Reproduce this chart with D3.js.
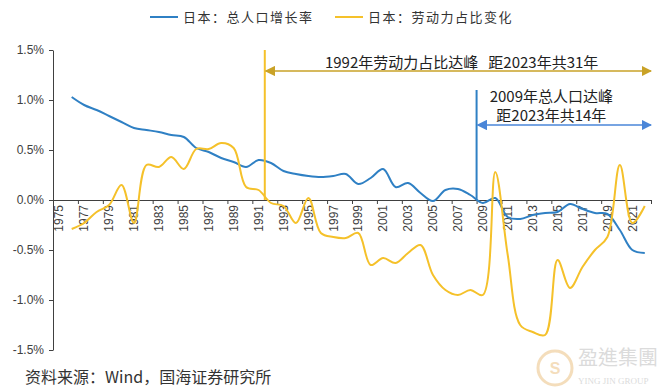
<meta charset="utf-8">
<style>
body { margin: 0; background: #fff; }
.tick text { font: 12px "Liberation Sans", sans-serif; fill: #404040; }
.axis path, .axis line { stroke: #404040; }
.line { fill: none; stroke-width: 2px; }
.legend { font: 13px "Noto Sans CJK SC", sans-serif; fill: #333; letter-spacing: 1.5px; }
.note { font: 15px "Noto Sans CJK SC", sans-serif; fill: #222; white-space: pre; }
</style>
<body>
<script src="https://d3js.org/d3.v7.min.js"></script>
<script>
// categories on the x axis (1975 has no value)
var axisYears = [1975,1976,1977,1978,1979,1980,1981,1982,1983,1984,1985,1986,1987,1988,1989,1990,1991,1992,1993,1994,1995,1996,1997,1998,1999,2000,2001,2002,2003,2004,2005,2006,2007,2008,2009,2010,2011,2012,2013,2014,2015,2016,2017,2018,2019,2020,2021,2022];
var years = [1976,1977,1978,1979,1980,1981,1982,1983,1984,1985,1986,1987,1988,1989,1990,1991,1992,1993,1994,1995,1996,1997,1998,1999,2000,2001,2002,2003,2004,2005,2006,2007,2008,2009,2010,2011,2012,2013,2014,2015,2016,2017,2018,2019,2020,2021,2022];

// 日本：总人口增长率 (%)
var popGrowth = [1.03,0.95,0.90,0.84,0.78,0.72,0.70,0.68,0.65,0.63,0.52,0.48,0.42,0.38,0.33,0.40,0.37,0.29,0.26,0.24,0.23,0.24,0.26,0.16,0.22,0.31,0.13,0.17,0.07,-0.01,0.10,0.11,0.05,-0.03,0.02,-0.17,-0.19,-0.15,-0.13,-0.12,-0.04,-0.09,-0.13,-0.14,-0.30,-0.50,-0.53];

// 日本：劳动力占比变化 (%)
var laborChange = [-0.29,-0.23,-0.12,-0.05,0.15,-0.23,0.35,0.33,0.43,0.31,0.51,0.51,0.57,0.52,0.13,0.10,-0.03,-0.06,-0.23,0.02,-0.33,-0.37,-0.38,-0.33,-0.65,-0.58,-0.63,-0.53,-0.45,-0.75,-0.90,-0.95,-0.90,-0.95,0.28,-0.55,-1.25,-1.32,-1.35,-0.60,-0.88,-0.67,-0.50,-0.37,0.35,-0.23,-0.06];

var yTicks = [-1.5,-1.0,-0.5,0.0,0.5,1.0,1.5];
var seriesNames = ["日本：总人口增长率", "日本：劳动力占比变化"];
var noteTexts = ["1992年劳动力占比达峰   距2023年共31年", "2009年总人口达峰", "距2023年共14年"];
var peakYears = [1992, 2009];

var blue = "#2f80c4", yellow = "#f5c12a";

var svg = d3.select("body").append("svg")
    .attr("width", 665)
    .attr("height", 392);

// scales: one unit per year, categories centred on the year
var x = d3.scaleLinear()
    .domain([axisYears[0] - 0.5, axisYears[axisYears.length - 1] + 0.5])
    .range([53, 651]);
var y = d3.scaleLinear().domain([-1.5, 1.5]).range([350, 50]);

// y axis
svg.append("g")
    .attr("class", "axis")
    .attr("transform", "translate(53,0)")
    .call(d3.axisLeft(y).tickValues(yTicks).tickSize(4).tickSizeOuter(0).tickPadding(5)
      .tickFormat(function(d) { return d.toFixed(1) + "%"; }));

// x axis: tick marks at category boundaries every 2 years
var boundaries = axisYears.filter(function(d, i) { return i > 0 && i % 2 == 0; })
    .map(function(d) { return d - 0.5; });
boundaries.push(axisYears[axisYears.length - 1] + 0.5);
svg.append("g")
    .attr("class", "axis")
    .attr("transform", "translate(0," + y(0) + ")")
    .call(d3.axisBottom(x).tickValues(boundaries).tickSize(4).tickSizeOuter(0).tickFormat(""));

// x labels every other year, rotated
svg.append("g")
    .selectAll("text")
    .data(axisYears.filter(function(d, i) { return i % 2 == 0; }))
    .enter().append("text")
    .attr("transform", function(d) { return "translate(" + x(d) + "," + (y(0) + 5) + ") rotate(-90)"; })
    .attr("dy", "0.35em")
    .attr("text-anchor", "end")
    .style("font", "12px 'Liberation Sans', sans-serif")
    .style("fill", "#404040")
    .text(function(d) { return d; });

// series lines
var line = d3.line()
    .x(function(d, i) { return x(years[i]); })
    .y(function(d) { return y(d); })
    .curve(d3.curveCatmullRom.alpha(0.5));

svg.append("path").datum(popGrowth).attr("class", "line").style("stroke", blue).attr("d", line);
svg.append("path").datum(laborChange).attr("class", "line").style("stroke", yellow).attr("d", line);

// arrow heads
var defs = svg.append("defs");
[["arrY", "#c9a227"], ["arrB", "#4a86d8"]].forEach(function(m) {
  defs.append("marker")
      .attr("id", m[0])
      .attr("viewBox", "0 0 10 10")
      .attr("refX", 9).attr("refY", 5)
      .attr("markerWidth", 7).attr("markerHeight", 7)
      .attr("orient", "auto-start-reverse")
    .append("path")
      .attr("d", "M0,0L10,5L0,10Z")
      .attr("fill", m[1]);
});

var xEnd = x(axisYears[axisYears.length - 1] + 0.5);

// 1992 labour share peak
var xa = x(peakYears[0] - 0.5);
svg.append("line").attr("x1", xa).attr("x2", xa).attr("y1", y(1.5)).attr("y2", y(0))
    .attr("stroke", yellow).attr("stroke-width", 2);
svg.append("line").attr("x1", xa + 1).attr("x2", xEnd).attr("y1", y(1.29)).attr("y2", y(1.29))
    .attr("stroke", "#c9a227").attr("stroke-width", 1.5)
    .attr("marker-start", "url(#arrY)").attr("marker-end", "url(#arrY)");
svg.append("text").attr("class", "note")
    .attr("x", x(2007.3)).attr("y", y(1.37)).attr("dy", "0.35em")
    .attr("text-anchor", "middle").text(noteTexts[0]);

// 2009 population peak
var xb = x(peakYears[1] - 0.5);
svg.append("line").attr("x1", xb).attr("x2", xb).attr("y1", y(1.1)).attr("y2", y(0))
    .attr("stroke", blue).attr("stroke-width", 2);
svg.append("line").attr("x1", xb + 1).attr("x2", xEnd).attr("y1", y(0.75)).attr("y2", y(0.75))
    .attr("stroke", "#4a86d8").attr("stroke-width", 1.5)
    .attr("marker-start", "url(#arrB)").attr("marker-end", "url(#arrB)");
svg.append("text").attr("class", "note")
    .attr("x", x(2014.5)).attr("y", y(1.03)).attr("dy", "0.35em")
    .attr("text-anchor", "middle").text(noteTexts[1]);
svg.append("text").attr("class", "note")
    .attr("x", x(2014.5)).attr("y", y(0.84)).attr("dy", "0.35em")
    .attr("text-anchor", "middle").text(noteTexts[2]);

// legend
var legend = svg.append("g");
[[150, blue], [335, yellow]].forEach(function(l, i) {
  legend.append("line").attr("x1", l[0]).attr("x2", l[0] + 28).attr("y1", 17).attr("y2", 17)
      .attr("stroke", l[1]).attr("stroke-width", 2);
  legend.append("text").attr("class", "legend").attr("x", l[0] + 33).attr("y", 17)
      .attr("dy", "0.35em").text(seriesNames[i]);
});

// source
svg.append("text")
    .attr("x", 25).attr("y", 377)
    .attr("dy", "0.35em")
    .style("font", "16px 'Noto Sans CJK SC', sans-serif")
    .style("fill", "#333")
    .text("资料来源：Wind，国海证券研究所");

// faint watermark
var wm = svg.append("g").attr("opacity", 0.35);
wm.append("circle").attr("cx", 555).attr("cy", 368).attr("r", 17)
    .attr("fill", "none").attr("stroke", "#e0a040").attr("stroke-width", 3);
wm.append("text").attr("x", 555).attr("y", 368).attr("dy", "0.35em").attr("text-anchor", "middle")
    .style("font", "bold 16px 'Liberation Sans', sans-serif").style("fill", "#e0a040").text("S");
wm.append("text").attr("x", 578).attr("y", 365)
    .style("font", "20px 'Noto Sans CJK TC', sans-serif").style("fill", "#999").text("盈進集團");
wm.append("text").attr("x", 578).attr("y", 384)
    .style("font", "9px 'Liberation Serif', serif").style("fill", "#999").text("YING JIN GROUP");
</script>
</body>
